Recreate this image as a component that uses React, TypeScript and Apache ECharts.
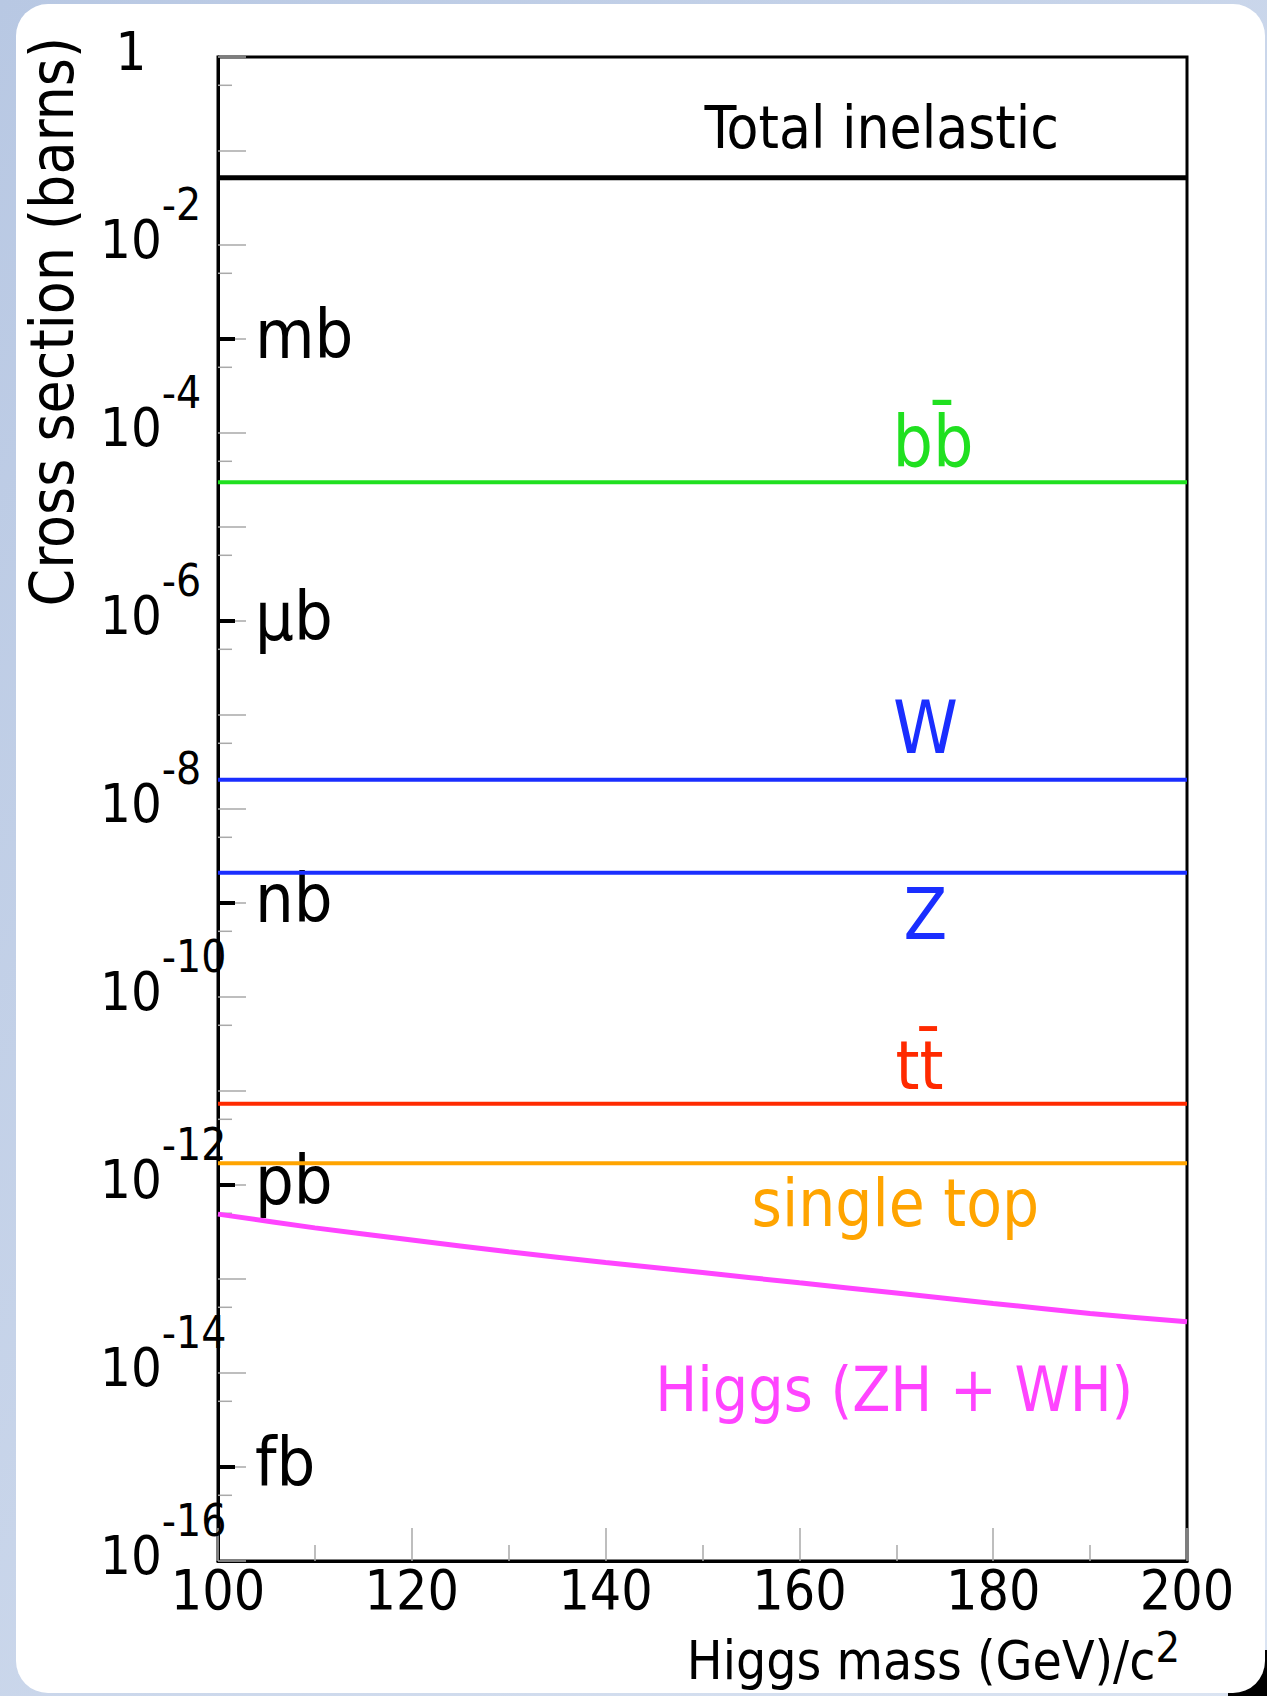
import React, { useEffect, useRef } from "react";
import * as echarts from "echarts";

const FONT = "'DejaVu Sans Condensed', 'Liberation Sans', sans-serif";

// x axis
const xMin = 100;
const xMax = 200;
const xStep = 20;

// y axis (barns, log)
const yMin = 1e-16;
const yMax = 1;

// horizontal (constant) cross sections
const flatNames = ["Total inelastic", "bb̄", "W", "Z", "tt̄", "single top"];
const flatXsec = [0.052, 3.0e-5, 2.05e-8, 2.1e-9, 7.3e-12, 1.7e-12];
const flatColors = ["#000000", "#20e020", "#1a2eff", "#1a2eff", "#ff2a00", "#ffa400"];
const flatWidths = [5, 4, 4, 4, 4, 4];

// Higgs (ZH + WH)
const higgsMass = [100, 110, 120, 130, 140, 150, 160, 170, 180, 190, 200];
const higgsXsec = [4.9e-13, 3.5e-13, 2.6e-13, 1.95e-13, 1.5e-13, 1.17e-13, 9.1e-14, 7.1e-14, 5.5e-14, 4.3e-14, 3.5e-14];
const higgsColor = "#ff44ff";

// unit markers
const unitXsec = [1e-3, 1e-6, 1e-9, 1e-12, 1e-15];
const unitNames = ["mb", "μb", "nb", "pb", "fb"];

// short ticks at 5 x 10^n
const halfTicks = [5e-1, 5e-2, 5e-3, 5e-4, 5e-5, 5e-6, 5e-7, 5e-8, 5e-9, 5e-10, 5e-11, 5e-12, 5e-13, 5e-14, 5e-15, 5e-16];

// annotation labels (data-space anchors)
const noteText = ["Total inelastic", "bb̄", "W", "Z", "tt̄", "single top", "Higgs (ZH + WH)"];
const noteMass = [168.5, 173.8, 173, 173, 172.4, 169.9, 169.8];
const noteXsec = [0.176, 8.2e-5, 7.4e-8, 7.6e-10, 1.85e-11, 6.4e-13, 6.6e-15];
const noteColors = ["#000000", "#20e020", "#1a2eff", "#1a2eff", "#ff2a00", "#ffa400", "#ff44ff"];
const noteFontSizes = [58, 71, 73, 71, 68, 65, 62];

const TICK_GRAY = "#a9a9a9";

function expOf(v: number) {
  return Math.round(Math.log10(v));
}

export default function App() {
  const ref = useRef<HTMLDivElement>(null);
  useEffect(() => {
    if (!ref.current) return;
    const chart = echarts.init(ref.current, null, { renderer: "svg" });

    const lineSeries: any[] = flatNames.map((n, i) => ({
      type: "line",
      name: n,
      data: [
        [xMin, flatXsec[i]],
        [xMax, flatXsec[i]],
      ],
      showSymbol: false,
      silent: true,
      lineStyle: { color: flatColors[i], width: flatWidths[i] },
      z: 5,
    }));

    const option: any = {
      animation: false,
      backgroundColor: new echarts.graphic.LinearGradient(0, 0, 1, 1, [
        { offset: 0, color: "#b8c8e3" },
        { offset: 1, color: "#dbe4f2" },
      ]),
      textStyle: { fontFamily: FONT },
      graphic: [
        {
          type: "rect",
          z: -20,
          shape: { x: 1228, y: 1650, width: 39, height: 46 },
          style: { fill: "#000" },
        },
        {
          type: "rect",
          z: -10,
          shape: { x: 16, y: 4, width: 1249, height: 1689, r: 32 },
          style: { fill: "#fff" },
        },
      ],
      grid: {
        left: 218,
        top: 57,
        right: 80,
        bottom: 135,
        show: true,
        borderColor: "#000",
        borderWidth: 3,
        backgroundColor: "#fff",
        outerBoundsMode: "none",
        containLabel: false,
      },
      xAxis: {
        type: "value",
        min: xMin,
        max: xMax,
        interval: xStep,
        name: "Higgs mass (GeV)/c{s|2}",
        nameLocation: "end",
        nameGap: -7,
        nameMoveOverlap: false,
        nameTextStyle: {
          fontFamily: FONT,
          fontSize: 53,
          lineHeight: 53,
          color: "#000",
          align: "right",
          verticalAlign: "top",
          padding: [73, 0, 0, 0],
          rich: {
            s: { fontFamily: FONT, fontSize: 43, lineHeight: 43, color: "#000", padding: [0, 0, 28, 0] },
          },
        },
        axisLine: { show: true, lineStyle: { color: "#000", width: 3 } },
        axisTick: { show: true, inside: true, length: 33, lineStyle: { color: TICK_GRAY, width: 1.5 } },
        minorTick: { show: true, splitNumber: 2, length: 16, lineStyle: { color: TICK_GRAY, width: 1.5 } },
        splitLine: { show: false },
        axisLabel: {
          show: true,
          margin: 4,
          fontFamily: FONT,
          fontSize: 55,
          lineHeight: 50,
          color: "#000",
        },
      },
      yAxis: {
        type: "log",
        logBase: 10,
        min: yMin,
        max: yMax,
        interval: 1,
        splitNumber: 16,
        position: "left",
        name: "Cross section (barns)",
        nameLocation: "end",
        nameRotate: 90,
        nameGap: 20,
        nameMoveOverlap: false,
        nameTextStyle: {
          fontFamily: FONT,
          fontSize: 60,
          lineHeight: 60,
          color: "#000",
          align: "right",
          verticalAlign: "bottom",
          padding: [0, 0, 136, 0],
        },
        axisLine: { show: true, lineStyle: { color: "#000", width: 3 } },
        axisTick: { show: true, inside: true, length: 28, lineStyle: { color: TICK_GRAY, width: 1.5 } },
        splitLine: { show: false },
        axisLabel: {
          show: true,
          margin: 118,
          align: "left",
          fontFamily: FONT,
          color: "#000",
          formatter: (v: number) => {
            const e = expOf(v);
            if (e === 0) return "{one|1}";
            if (e % 2 !== 0) return "";
            return "{b|10}{s|" + e + "}";
          },
          rich: {
            b: { fontFamily: FONT, fontSize: 54, lineHeight: 54, color: "#000", padding: [0, 0, 11, 0] },
            s: { fontFamily: FONT, fontSize: 44, lineHeight: 44, color: "#000", padding: [0, 0, 82, 0] },
            one: { fontFamily: FONT, fontSize: 54, lineHeight: 54, color: "#000", width: 62, align: "center", padding: [0, 0, 11, 0] },
          },
        },
      },
      series: [
        {
          type: "scatter",
          name: "minor ticks",
          data: halfTicks.map((v) => [xMin, v]),
          symbol: "rect",
          symbolSize: [14, 1.5],
          symbolOffset: [7, 0],
          itemStyle: { color: TICK_GRAY, opacity: 1 },
          silent: true,
          clip: false,
          z: 2,
        },
        {
          type: "scatter",
          name: "units",
          data: unitXsec.map((v, i) => ({
            value: [xMin, v],
            label: {
              show: true,
              position: [37, -3],
              align: "left",
              verticalAlign: "middle",
              formatter: unitNames[i],
              fontFamily: FONT,
              fontSize: 68,
              lineHeight: 68,
              color: "#000",
            },
          })),
          symbol: "rect",
          symbolSize: [17, 4],
          symbolOffset: [8.5, 0],
          itemStyle: { color: "#000", opacity: 1 },
          silent: true,
          clip: false,
          z: 3,
        },
        ...lineSeries,
        {
          type: "line",
          name: "Higgs (ZH + WH)",
          data: higgsMass.map((m, i) => [m, higgsXsec[i]]),
          smooth: 0.3,
          showSymbol: false,
          silent: true,
          lineStyle: { color: higgsColor, width: 5 },
          z: 5,
        },
        {
          type: "scatter",
          name: "notes",
          symbolSize: 1,
          itemStyle: { color: "rgba(0,0,0,0)", opacity: 1 },
          silent: true,
          z: 6,
          data: noteText.map((t, i) => ({
            value: [noteMass[i], noteXsec[i]],
            label: {
              show: true,
              position: "inside",
              formatter: t,
              fontFamily: FONT,
              fontSize: noteFontSizes[i],
              lineHeight: noteFontSizes[i],
              color: noteColors[i],
              opacity: 1,
            },
          })),
        },
      ],
    };

    chart.setOption(option);
    return () => chart.dispose();
  }, []);

  return (
    <div
      ref={ref}
      style={{ position: "absolute", left: 0, top: 0, width: 1267, height: 1696 }}
    />
  );
}
